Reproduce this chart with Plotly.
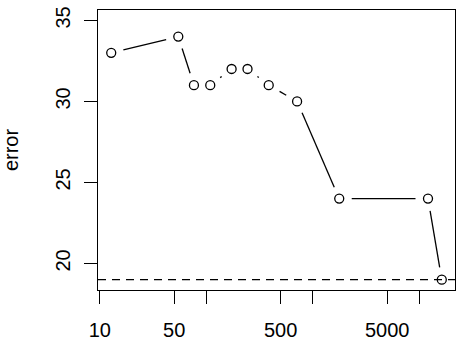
import math
import plotly.graph_objects as go

# data
x_vals = [12.8, 54.6, 76.6, 109, 173, 244, 386, 713, 1774, 12100, 16300]
err_vals = [33, 34, 31, 31, 32, 32, 31, 30, 24, 24, 19]
ref_level = 19
x_tickvals = [10, 50, 100, 500, 1000, 5000, 10000]
x_ticktext = ["10", "50", "", "500", "", "5000", ""]
y_tickvals = [20, 25, 30, 35]
y_ticktext = ["20", "25", "30", "35"]

W, H = 460, 352
ML, MR, MT, MB = 98, 5, 10, 62
PW, PH = W - ML - MR, H - MT - MB

# R style 4% axis extension
lx = [math.log10(v) for v in x_vals]
xr = max(lx) - min(lx)
xlo, xhi = min(lx) - 0.04 * xr, max(lx) + 0.04 * xr
ymin, ymax = 19, 35
yr = ymax - ymin
ylo, yhi = ymin - 0.04 * yr, ymax + 0.04 * yr

def to_px(l, y):
    return ((l - xlo) / (xhi - xlo) * PW, (yhi - y) / (yhi - ylo) * PH)

def from_px(px, py):
    l = xlo + px / PW * (xhi - xlo)
    y = yhi - py / PH * (yhi - ylo)
    return 10 ** l, y

GAP = 12.5
seg_x, seg_y = [], []
for i in range(len(x_vals) - 1):
    x1, y1 = to_px(lx[i], err_vals[i])
    x2, y2 = to_px(lx[i + 1], err_vals[i + 1])
    d = math.hypot(x2 - x1, y2 - y1)
    if d <= 2 * GAP + 0.3:
        continue
    ux, uy = (x2 - x1) / d, (y2 - y1) / d
    a = from_px(x1 + ux * GAP, y1 + uy * GAP)
    b = from_px(x2 - ux * GAP, y2 - uy * GAP)
    seg_x += [a[0], b[0], None]
    seg_y += [a[1], b[1], None]

fig = go.Figure()
fig.add_trace(go.Scatter(x=seg_x, y=seg_y, mode="lines",
                         line=dict(color="black", width=1.3),
                         hoverinfo="skip", showlegend=False))
fig.add_trace(go.Scatter(x=x_vals, y=err_vals, mode="markers",
                         marker=dict(symbol="circle-open", size=9,
                                     color="black", line=dict(width=1.3)),
                         showlegend=False))
fig.add_shape(type="line", xref="paper", x0=0, x1=1, yref="y",
              y0=ref_level, y1=ref_level,
              line=dict(color="black", width=1.3, dash="8px,6px"))

font = dict(family="Liberation Sans, Arial, sans-serif", size=20, color="black")
fig.update_layout(
    width=W, height=H,
    margin=dict(l=ML, r=MR, t=MT, b=MB, pad=0),
    paper_bgcolor="white", plot_bgcolor="white",
    font=font,
    xaxis=dict(type="log", range=[xlo, xhi], tickvals=x_tickvals,
               ticktext=x_ticktext, ticks="outside", ticklen=13,
               tickwidth=1.3, tickcolor="black", showgrid=False,
               zeroline=False, showline=True, mirror=True,
               linecolor="black", linewidth=1.3, tickfont=font,
               ticklabelstandoff=9),
    yaxis=dict(range=[ylo, yhi], tickvals=y_tickvals, ticktext=y_ticktext,
               ticks="outside", ticklen=13, tickwidth=1.3,
               tickcolor="black", showgrid=False, zeroline=False,
               showline=True, mirror=True, linecolor="black",
               linewidth=1.3, tickangle=-90, tickfont=font,
               ticklabelstandoff=6,
               title=dict(text="error", font=font, standoff=31)),
)
fig.write_html("out.html")
